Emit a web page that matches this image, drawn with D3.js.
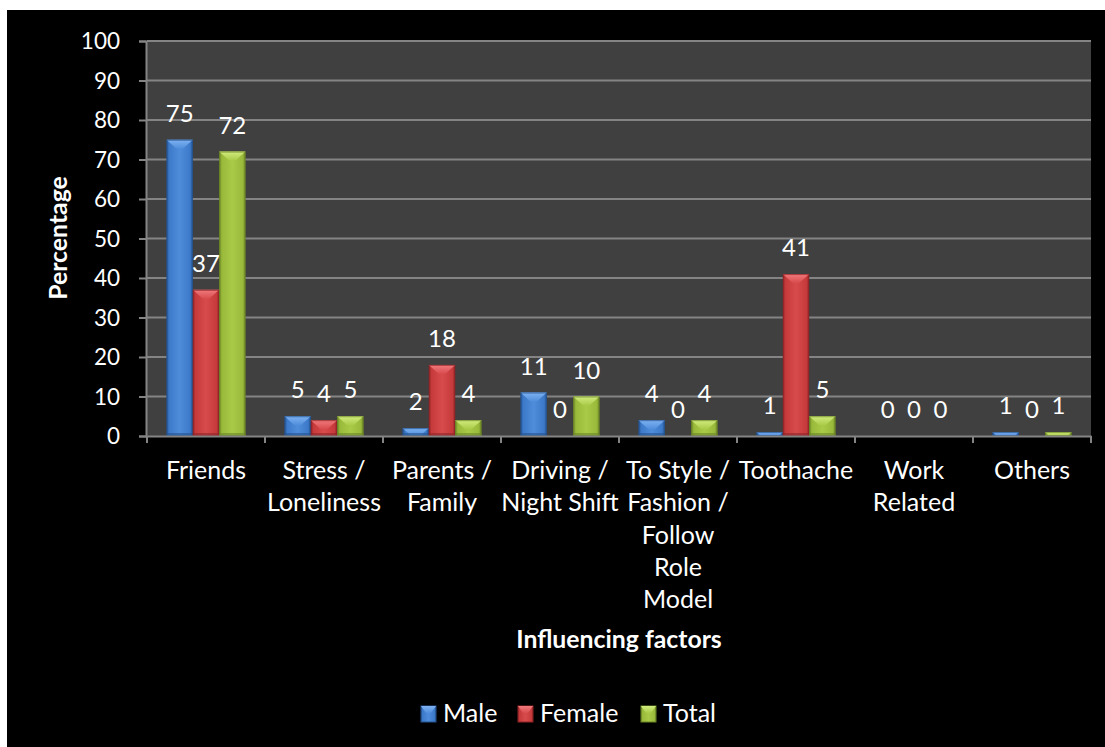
<!DOCTYPE html>
<html>
<head>
<meta charset="utf-8">
<script src="https://cdn.jsdelivr.net/npm/d3@7/dist/d3.min.js"></script>
<style>
  html, body { margin: 0; padding: 0; background: #ffffff; }
  svg { display: block; }
  text { font-family: Lato, "Open Sans", "Liberation Sans", sans-serif; fill: #ffffff; }
</style>
</head>
<body>
<svg id="chart" width="1105" height="747"></svg>
<script>
// Influencing factors by gender (percentages)
const categories = [
  ["Friends"],
  ["Stress /", "Loneliness"],
  ["Parents /", "Family"],
  ["Driving /", "Night Shift"],
  ["To Style /", "Fashion /", "Follow", "Role", "Model"],
  ["Toothache"],
  ["Work", "Related"],
  ["Others"]
];
const seriesNames = ["Male", "Female", "Total"];
const male   = [75, 5, 2, 11, 4, 1, 0, 1];
const female = [37, 4, 18, 0, 0, 41, 0, 0];
const total  = [72, 5, 4, 10, 4, 5, 0, 1];
const yTicks = [0, 10, 20, 30, 40, 50, 60, 70, 80, 90, 100];

const palette = {
  Male:   { main: "#3c79c8", light: "#4f8ddb", dark: "#24528f", top: "#7fb3f2" },
  Female: { main: "#c73a3c", light: "#d84b4d", dark: "#8f2426", top: "#f07a7c" },
  Total:  { main: "#98b93a", light: "#a9ca48", dark: "#6b8526", top: "#d2ec7e" }
};

const values = { Male: male, Female: female, Total: total };
const catKeys = categories.map(c => c.join(" "));

const svg = d3.select("#chart");
const W = 1105, H = 747;

// black chart background with a thin white margin on top/left
svg.append("rect").attr("x", 7).attr("y", 10).attr("width", W - 7).attr("height", H - 10).attr("fill", "#000000");

const plot = { left: 147, right: 1091, top: 41, bottom: 436 };

const x = d3.scaleBand().domain(catKeys).range([plot.left, plot.right]).padding(0);
const xs = d3.scaleBand().domain(seriesNames).range([0, x.bandwidth()]).paddingInner(0).paddingOuter(0.74);
const y = d3.scaleLinear().domain([0, 100]).range([plot.bottom, plot.top]);

// gradients for bevelled bars
const defs = svg.append("defs");
seriesNames.forEach(s => {
  const p = palette[s];
  const g = defs.append("linearGradient").attr("id", "grad-" + s).attr("x1", "0").attr("x2", "1").attr("y1", "0").attr("y2", "0");
  g.append("stop").attr("offset", "0").attr("stop-color", p.dark);
  g.append("stop").attr("offset", "0.1").attr("stop-color", p.main);
  g.append("stop").attr("offset", "0.5").attr("stop-color", p.light);
  g.append("stop").attr("offset", "0.9").attr("stop-color", p.main);
  g.append("stop").attr("offset", "1").attr("stop-color", p.dark);
  const t = defs.append("linearGradient").attr("id", "top-" + s).attr("x1", "0").attr("x2", "0").attr("y1", "0").attr("y2", "1");
  t.append("stop").attr("offset", "0").attr("stop-color", p.top);
  t.append("stop").attr("offset", "1").attr("stop-color", p.light);
});

// plot area
svg.append("rect")
  .attr("x", plot.left).attr("y", plot.top)
  .attr("width", plot.right - plot.left).attr("height", plot.bottom - plot.top)
  .attr("fill", "#404040");

// gridlines
svg.append("g").selectAll("line").data(yTicks.filter(t => t > 0)).join("line")
  .attr("x1", plot.left).attr("x2", plot.right)
  .attr("y1", d => y(d)).attr("y2", d => y(d))
  .attr("stroke", "#848484").attr("stroke-width", 2);

// y axis
const yAxis = d3.axisLeft(y).tickValues(yTicks).tickSize(7).tickPadding(19);
const gy = svg.append("g").attr("transform", `translate(${plot.left - 1},0)`).call(yAxis);
gy.select(".domain").attr("stroke", "#848484").attr("stroke-width", 2);
gy.selectAll(".tick line").attr("stroke", "#848484").attr("stroke-width", 2);
gy.selectAll(".tick text").attr("fill", "#ffffff").style("font-size", "22.5px")
  .style("font-family", "Lato, 'Open Sans', sans-serif").attr("dy", "0.35em");

// bars
const bars = svg.append("g");
catKeys.forEach((c, i) => {
  seriesNames.forEach(s => {
    const v = values[s][i];
    const bx = x(c) + xs(s);
    const bw = xs.bandwidth();
    const by = y(v);
    const bh = y(0) - by;
    if (bh <= 0) return;
    const p = palette[s];
    const g = bars.append("g");
    g.append("rect").attr("x", bx).attr("y", by).attr("width", bw).attr("height", bh)
      .attr("fill", `url(#grad-${s})`);
    // bevel: bright chevron on top, darker lip at bottom
    const depth = Math.min(9, bh);
    const inset = Math.min(10, bw / 2 - 2) * depth / 9;
    g.append("path")
      .attr("d", `M${bx},${by} L${bx + bw},${by} L${bx + bw - inset},${by + depth} L${bx + inset},${by + depth} Z`)
      .attr("fill", `url(#top-${s})`);
    if (bh > 6) {
      g.append("rect").attr("x", bx).attr("y", y(0) - 3).attr("width", bw).attr("height", 3)
        .attr("fill", p.dark).attr("opacity", 0.6);
    }
    g.append("rect").attr("x", bx + 0.5).attr("y", by + 0.5).attr("width", bw - 1).attr("height", Math.max(0, bh - 1))
      .attr("fill", "none").attr("stroke", p.dark).attr("stroke-width", 1).attr("opacity", 0.7);
  });
});

// value labels
const labels = svg.append("g");
catKeys.forEach((c, i) => {
  seriesNames.forEach(s => {
    const v = values[s][i];
    labels.append("text")
      .attr("x", x(c) + xs(s) + xs.bandwidth() / 2)
      .attr("y", y(v) - 18)
      .attr("text-anchor", "middle")
      .style("font-size", "24px")
      .text(v);
  });
});

// x axis line and category ticks
const xAxis = d3.axisBottom(x).tickSize(0).tickFormat("");
const gx = svg.append("g").attr("transform", `translate(0,${plot.bottom})`).call(xAxis);
gx.select(".domain").attr("stroke", "#848484").attr("stroke-width", 2);
const boundaries = catKeys.map(c => x(c)).concat([plot.right]);
svg.append("g").selectAll("line").data(boundaries).join("line")
  .attr("x1", d => d).attr("x2", d => d)
  .attr("y1", plot.bottom).attr("y2", plot.bottom + 7)
  .attr("stroke", "#848484").attr("stroke-width", 2);

// category labels (wrapped)
const catG = svg.append("g");
categories.forEach((lines, i) => {
  const cx = x(catKeys[i]) + x.bandwidth() / 2;
  const t = catG.append("text").attr("text-anchor", "middle").style("font-size", "25px");
  lines.forEach((ln, j) => {
    t.append("tspan").attr("x", cx).attr("y", 479 + j * 32.3).text(ln);
  });
});

// axis titles
svg.append("text")
  .attr("x", (plot.left + plot.right) / 2).attr("y", 648)
  .attr("text-anchor", "middle").style("font-size", "24.8px").style("font-weight", "bold")
  .text("Influencing factors");

svg.append("text")
  .attr("transform", "translate(67,238) rotate(-90)")
  .attr("text-anchor", "middle").style("font-size", "24.8px").style("font-weight", "bold")
  .text("Percentage");

// legend
const legend = svg.append("g");
const legendX = { Male: 421, Female: 518, Total: 641 };
seriesNames.forEach(s => {
  const lx = legendX[s];
  const p = palette[s];
  legend.append("rect").attr("x", lx).attr("y", 706).attr("width", 15).attr("height", 16)
    .attr("fill", `url(#grad-${s})`).attr("stroke", p.dark).attr("stroke-width", 1);
  legend.append("path")
    .attr("d", `M${lx},${706} L${lx + 15},${706} L${lx + 10},${713} L${lx + 5},${713} Z`)
    .attr("fill", `url(#top-${s})`);
  legend.append("text").attr("x", lx + 22).attr("y", 722).style("font-size", "25px").text(s);
});
</script>
</body>
</html>
